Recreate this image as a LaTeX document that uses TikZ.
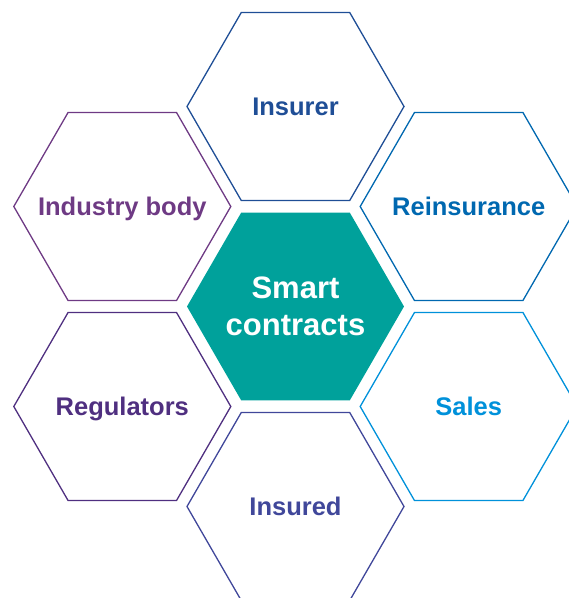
\documentclass[tikz,border=0pt]{standalone}
\usepackage{fontspec}
\setmainfont{Liberation Sans}
\usetikzlibrary{shapes.geometric}
\definecolor{insurerblue}{HTML}{1F4E96}
\definecolor{bodypurple}{HTML}{6E3A84}
\definecolor{reinsblue}{HTML}{0068B0}
\definecolor{regviolet}{HTML}{4F2F80}
\definecolor{salesblue}{HTML}{0091DA}
\definecolor{insuredblue}{HTML}{40479A}
\definecolor{smartteal}{HTML}{00A19B}
\newcommand{\hexlab}[1]{\makebox[0pt]{#1}}
\begin{document}
\begin{tikzpicture}[x=1pt,y=-1pt,
    hexa/.style={regular polygon,regular polygon sides=6,minimum size=217pt,inner sep=0pt,line width=1.3pt},
    lab/.style={font=\fontsize{25.5}{30}\selectfont\bfseries,text height=18pt,text depth=0pt}]
    \clip (0,0) rectangle (569,598);
    \node[hexa,fill=smartteal] (smart) at (295.5,306.5) {};
    \node[text=white,align=center,font=\fontsize{31}{37}\selectfont\bfseries] (smarttext) at (smart.center) {Smart\\ contracts};
    \node[hexa,lab,draw=insurerblue,text=insurerblue] (insurer) at (295.5,106.5) {\hexlab{Insurer}};
    \node[hexa,lab,draw=bodypurple,text=bodypurple] (body) at (122.3,206.5) {\hexlab{Industry body}};
    \node[hexa,lab,draw=reinsblue,text=reinsblue] (reins) at (468.7,206.5) {\hexlab{Reinsurance}};
    \node[hexa,lab,draw=regviolet,text=regviolet] (regs) at (122.3,406.5) {\hexlab{Regulators}};
    \node[hexa,lab,draw=salesblue,text=salesblue] (sales) at (468.7,406.5) {\hexlab{Sales}};
    \node[hexa,lab,draw=insuredblue,text=insuredblue] (insured) at (295.5,506.5) {\hexlab{Insured}};
\end{tikzpicture}
\end{document}
